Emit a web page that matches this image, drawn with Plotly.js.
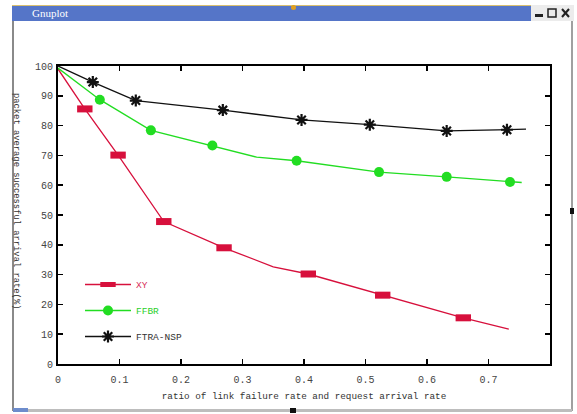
<!DOCTYPE html>
<html>
<head>
<meta charset="utf-8">
<script src="https://cdn.plot.ly/plotly-3.0.1.min.js"></script>
<style>html,body{margin:0;padding:0;background:#fff;}#chart{width:577px;height:414px;}</style>
</head>
<body>
<div id="chart"></div>
<script>
// ---- data ----
var seriesNames = ["XY", "FFBR", "FTRA-NSP"];
var xyLineX   = [0, 0.0436, 0.0977, 0.172, 0.270, 0.350, 0.407, 0.528, 0.659, 0.733];
var xyLineY   = [99, 85.6, 70.1, 47.8, 39.0, 32.6, 30.2, 23.1, 15.5, 11.7];
var xyMarkX   = [0.0436, 0.0977, 0.172, 0.270, 0.407, 0.528, 0.659];
var xyMarkY   = [85.6, 70.1, 47.8, 39.0, 30.2, 23.1, 15.5];
var ffbrLineX = [0, 0.068, 0.151, 0.251, 0.323, 0.388, 0.522, 0.632, 0.735, 0.754];
var ffbrLineY = [99.3, 88.7, 78.4, 73.3, 69.4, 68.2, 64.4, 62.8, 61.1, 60.9];
var ffbrMarkX = [0.068, 0.151, 0.251, 0.388, 0.522, 0.632, 0.735];
var ffbrMarkY = [88.7, 78.4, 73.3, 68.2, 64.4, 62.8, 61.1];
var ftraLineX = [0, 0.0566, 0.1265, 0.268, 0.396, 0.507, 0.632, 0.730, 0.761];
var ftraLineY = [100, 94.6, 88.4, 85.2, 81.9, 80.3, 78.2, 78.6, 78.8];
var ftraMarkX = [0.0566, 0.1265, 0.268, 0.396, 0.507, 0.632, 0.730];
var ftraMarkY = [94.6, 88.4, 85.2, 81.9, 80.3, 78.2, 78.6];
var xTickVals = [0, 0.1, 0.2, 0.3, 0.4, 0.5, 0.6, 0.7];
var yTickVals = [0, 10, 20, 30, 40, 50, 60, 70, 80, 90, 100];
var xTitle = "ratio of link failure rate and request arrival rate";
var yTitle = "packet average successful arrival rate(%)";
var windowTitle = "Gnuplot";

// ---- styling ----
var RED = "#d7103c", GREEN = "#22dd22", BLACK = "#111111";
var MONO = "Liberation Mono, DejaVu Sans Mono, monospace";
var W = 577, H = 414, ML = 58, MR = 27, MT = 66, MB = 50;
function px(x) { return (x - ML) / (W - ML - MR); }
function py(y) { return 1 - (y - MT) / (H - MT - MB); }

var redMarker = {symbol: "line-ew", size: 11, color: RED, line: {color: RED, width: 7}};
var greenMarker = {symbol: "circle", size: 10, color: GREEN};
var blackMarker = {symbol: "asterisk-open", size: 10, color: BLACK, line: {color: BLACK, width: 2.2}};

var traces = [
  {x: xyLineX, y: xyLineY, mode: "lines", line: {color: RED, width: 1.3}, showlegend: false, hoverinfo: "skip"},
  {x: xyMarkX, y: xyMarkY, mode: "markers", marker: redMarker, showlegend: false},
  {x: ffbrLineX, y: ffbrLineY, mode: "lines", line: {color: GREEN, width: 1.3}, showlegend: false, hoverinfo: "skip"},
  {x: ffbrMarkX, y: ffbrMarkY, mode: "markers", marker: greenMarker, showlegend: false},
  {x: ftraLineX, y: ftraLineY, mode: "lines", line: {color: BLACK, width: 1.3}, showlegend: false, hoverinfo: "skip"},
  {x: ftraMarkX, y: ftraMarkY, mode: "markers", marker: blackMarker, showlegend: false},
  // legend entries
  {x: [null], y: [null], mode: "lines+markers", name: '<span style="color:#d8305a">' + seriesNames[0] + '</span>', legendgroup: "a",
   line: {color: RED, width: 1.3}, marker: redMarker},
  {x: [null], y: [null], mode: "lines+markers", name: '<span style="color:#2ad02a">' + seriesNames[1] + '</span>', legendgroup: "b",
   line: {color: GREEN, width: 1.3}, marker: greenMarker},
  {x: [null], y: [null], mode: "lines+markers", name: '<span style="color:#333">' + seriesNames[2] + '</span>', legendgroup: "c",
   line: {color: BLACK, width: 1.3}, marker: blackMarker}
];

var shapes = [
  // window title bar
  {type: "rect", xref: "paper", yref: "paper", x0: px(12), x1: px(531), y0: py(5), y1: py(21), fillcolor: "#5575c8", line: {width: 0}, layer: "below"},
  {type: "line", xref: "paper", yref: "paper", x0: px(12), x1: px(531), y0: py(5.5), y1: py(5.5), line: {color: "#d9c070", width: 1}},
  {type: "rect", xref: "paper", yref: "paper", x0: px(531), x1: px(574), y0: py(5), y1: py(21), fillcolor: "#ececec", line: {width: 0}, layer: "below"},
  {type: "rect", xref: "paper", yref: "paper", x0: px(535), x1: px(543), y0: py(14), y1: py(17), fillcolor: "#222", line: {width: 0}},
  {type: "rect", xref: "paper", yref: "paper", x0: px(548), x1: px(556), y0: py(9), y1: py(17), fillcolor: "rgba(0,0,0,0)", line: {color: "#222", width: 1.5}},
  {type: "line", xref: "paper", yref: "paper", x0: px(562), x1: px(569), y0: py(9), y1: py(17), line: {color: "#222", width: 2}},
  {type: "line", xref: "paper", yref: "paper", x0: px(562), x1: px(569), y0: py(17), y1: py(9), line: {color: "#222", width: 2}},
  // window borders
  {type: "line", xref: "paper", yref: "paper", x0: px(13), x1: px(13), y0: py(21), y1: py(411), line: {color: "#8a8a8a", width: 2}},
  {type: "line", xref: "paper", yref: "paper", x0: px(572), x1: px(572), y0: py(21), y1: py(411), line: {color: "#a0a0a0", width: 2}},
  {type: "line", xref: "paper", yref: "paper", x0: px(13), x1: px(572), y0: py(410.5), y1: py(410.5), line: {color: "#bdbdbd", width: 3}},
  {type: "rect", xref: "paper", yref: "paper", x0: px(13), x1: px(28), y0: py(408), y1: py(412), fillcolor: "#6d8ccc", line: {width: 0}},
  // resize handles
  {type: "rect", xref: "paper", yref: "paper", x0: px(570), x1: px(574), y0: py(208), y1: py(214), fillcolor: "#111", line: {width: 0}},
  {type: "rect", xref: "paper", yref: "paper", x0: px(290), x1: px(296), y0: py(408), y1: py(413), fillcolor: "#111", line: {width: 0}},
  {type: "circle", xref: "paper", yref: "paper", x0: px(291), x1: px(296), y0: py(5), y1: py(10), fillcolor: "#e0a020", line: {width: 0}}
];

var annotations = [
  {text: windowTitle, xref: "paper", yref: "paper", x: px(30), y: py(13), xanchor: "left", yanchor: "middle", showarrow: false,
   font: {family: "Liberation Serif, serif", size: 11, color: "#ffffff"}},
  {text: yTitle, xref: "paper", yref: "paper", x: px(16), y: py(201), xanchor: "center", yanchor: "middle", textangle: 90, showarrow: false,
   font: {family: MONO, size: 8.8, color: "#333"}}
];

var layout = {
  width: W, height: H,
  margin: {l: ML, r: MR, t: MT, b: MB, pad: 0},
  paper_bgcolor: "#ffffff", plot_bgcolor: "#ffffff",
  showlegend: true,
  legend: {x: px(80), y: py(270), xanchor: "left", yanchor: "top", bgcolor: "rgba(0,0,0,0)",
           font: {family: MONO, size: 9.5, color: "#333"}, itemwidth: 46, tracegroupgap: 7, traceorder: "grouped"},
  xaxis: {range: [0, 0.8], tickvals: xTickVals, ticktext: xTickVals.map(String), ticks: "inside", ticklen: 5, tickwidth: 1.5, tickcolor: "#000",
          showline: true, linewidth: 2, linecolor: "#000", mirror: "ticks", showgrid: false, zeroline: false,
          tickfont: {family: MONO, size: 10, color: "#444"}, ticklabelstandoff: 5, automargin: false,
          title: {text: xTitle, font: {family: MONO, size: 9.3, color: "#333"}, standoff: 7}},
  yaxis: {range: [0, 100], tickvals: yTickVals, ticks: "inside", ticklen: 5, tickwidth: 1.5, tickcolor: "#000",
          showline: true, linewidth: 2, linecolor: "#000", mirror: "ticks", showgrid: false, zeroline: false,
          tickfont: {family: MONO, size: 10, color: "#444"}, ticklabelstandoff: 1, automargin: false},
  shapes: shapes,
  annotations: annotations
};

Plotly.newPlot("chart", traces, layout, {staticPlot: true, displayModeBar: false});
</script>
</body>
</html>
